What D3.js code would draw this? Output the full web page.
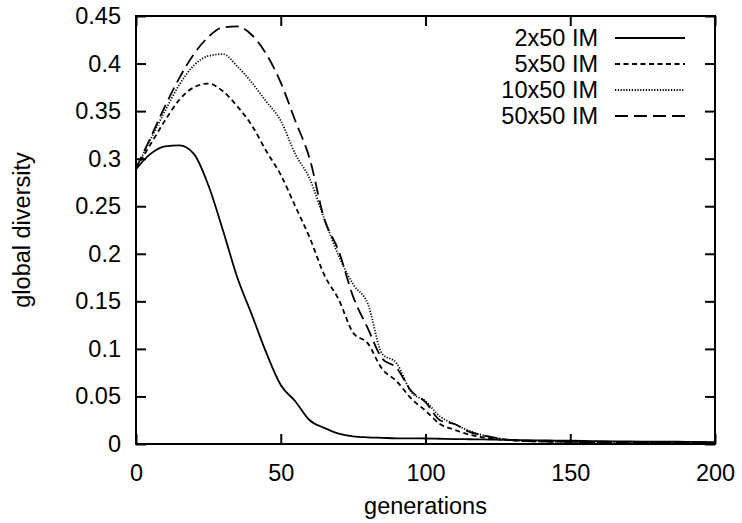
<!DOCTYPE html>
<head>
  <meta charset="utf-8">
  <script src="https://d3js.org/d3.v7.min.js"></script>
  <style>
    body { margin: 0; background: #fff; }
    text { font-family: "Liberation Sans", Arial, sans-serif; fill: #000; }
    .curve { fill: none; stroke: #000; stroke-width: 1.8px; }
  </style>
</head>

<body>
  <script>

    // generations, one point every 5
    var gens = d3.range(0, 201, 5);

    var im2 = [0.289, 0.305, 0.313, 0.314, 0.305, 0.272, 0.225, 0.175, 0.136, 0.096,
               0.062, 0.045, 0.025, 0.017, 0.011, 0.008, 0.007, 0.0065, 0.006, 0.006,
               0.0058, 0.0055, 0.0052, 0.005, 0.0048, 0.0045, 0.0043, 0.004, 0.0038, 0.0036,
               0.0034, 0.0032, 0.003, 0.0028, 0.0027, 0.0026, 0.0025, 0.0024, 0.0023, 0.0022, 0.002];
    var im5 = [0.29, 0.315, 0.34, 0.362, 0.375, 0.379, 0.371, 0.355, 0.335, 0.308,
               0.283, 0.25, 0.217, 0.178, 0.152, 0.117, 0.106, 0.079, 0.066, 0.048,
               0.035, 0.021, 0.015, 0.010, 0.007, 0.005, 0.004, 0.003, 0.0028, 0.0025,
               0.0023, 0.002, 0.0019, 0.0018, 0.0017, 0.0016, 0.0015, 0.0014, 0.0013, 0.0012, 0.0012];
    var im10 = [0.29, 0.32, 0.35, 0.378, 0.398, 0.408, 0.41, 0.397, 0.38, 0.36,
                0.34, 0.305, 0.279, 0.237, 0.198, 0.168, 0.148, 0.095, 0.085, 0.055,
                0.045, 0.029, 0.021, 0.014, 0.009, 0.006, 0.004, 0.003, 0.0028, 0.0025,
                0.0023, 0.002, 0.0019, 0.0018, 0.0017, 0.0016, 0.0015, 0.0014, 0.0013, 0.0012, 0.0012];
    var im50 = [0.29, 0.322, 0.355, 0.385, 0.41, 0.428, 0.438, 0.439, 0.43, 0.41,
                0.38, 0.34, 0.30, 0.237, 0.203, 0.155, 0.122, 0.09, 0.08, 0.056,
                0.044, 0.025, 0.021, 0.013, 0.009, 0.006, 0.004, 0.003, 0.0028, 0.0025,
                0.0023, 0.002, 0.0019, 0.0018, 0.0017, 0.0016, 0.0015, 0.0014, 0.0013, 0.0012, 0.0012];

    var seriesNames = ["2x50 IM", "5x50 IM", "10x50 IM", "50x50 IM"];
    var seriesValues = [im2, im5, im10, im50];
    var dashes = ["none", "5,3.5", "1.2,1.6", "13,6"];

    var xTicks = [0, 50, 100, 150, 200];
    var yTicks = [0, 0.05, 0.1, 0.15, 0.2, 0.25, 0.3, 0.35, 0.4, 0.45];

    var svg = d3.select("body").append("svg")
      .attr("width", 742)
      .attr("height", 523);

    var mLeft = 136, mRight = 715, mTop = 16, mBottom = 444;

    var x = d3.scaleLinear().domain([0, 200]).range([mLeft, mRight]);
    var y = d3.scaleLinear().domain([0, 0.45]).range([mBottom, mTop]);

    var line = d3.line()
      .x(function(d) { return x(d[0]); })
      .y(function(d) { return y(d[1]); })
      .curve(d3.curveMonotoneX);

    // curves
    seriesValues.forEach(function(vals, i) {
      svg.append("path")
        .datum(gens.map(function(g, j) { return [g, vals[j]]; }))
        .attr("class", "curve")
        .attr("d", line)
        .style("stroke-dasharray", dashes[i]);
    });

    // axes, ticks pointing inward, mirrored on top and right
    var fs = "23.5px";
    var tick = 10;

    svg.append("g")
      .attr("transform", "translate(0," + mBottom + ")")
      .call(d3.axisBottom(x).tickValues(xTicks).tickSize(-tick).tickPadding(tick + 10).tickFormat(d3.format("d")))
      .call(function(g) {
        g.select(".domain").remove();
        g.selectAll("text").style("font-size", fs);
      });

    svg.append("g")
      .attr("transform", "translate(0," + mTop + ")")
      .call(d3.axisTop(x).tickValues(xTicks).tickSize(-tick).tickFormat(""))
      .call(function(g) { g.select(".domain").remove(); });

    svg.append("g")
      .attr("transform", "translate(" + mLeft + ",0)")
      .call(d3.axisLeft(y).tickValues(yTicks).tickSize(-tick).tickPadding(tick + 5).tickFormat(d3.format("")))
      .call(function(g) {
        g.select(".domain").remove();
        g.selectAll("text").style("font-size", fs);
      });

    svg.append("g")
      .attr("transform", "translate(" + mRight + ",0)")
      .call(d3.axisRight(y).tickValues(yTicks).tickSize(-tick).tickFormat(""))
      .call(function(g) { g.select(".domain").remove(); });

    svg.selectAll(".tick line").attr("stroke", "#000").attr("stroke-width", 2);

    svg.append("rect")
      .attr("x", mLeft).attr("y", mTop)
      .attr("width", mRight - mLeft).attr("height", mBottom - mTop)
      .attr("fill", "none")
      .attr("stroke", "#000")
      .attr("stroke-width", 2);

    // axis titles
    svg.append("text")
      .attr("x", (mLeft + mRight) / 2)
      .attr("y", 514)
      .attr("text-anchor", "middle")
      .style("font-size", fs)
      .text("generations");

    svg.append("text")
      .attr("transform", "translate(30," + (mTop + mBottom) / 2 + ") rotate(-90)")
      .attr("text-anchor", "middle")
      .style("font-size", fs)
      .text("global diversity");

    // legend
    var legend = svg.append("g");
    seriesNames.forEach(function(name, i) {
      var ly = 38 + i * 26;
      legend.append("text")
        .attr("x", 598)
        .attr("y", ly)
        .attr("dy", "0.35em")
        .attr("text-anchor", "end")
        .style("font-size", fs)
        .text(name);
      legend.append("line")
        .attr("class", "curve")
        .attr("x1", 615).attr("x2", 685)
        .attr("y1", ly).attr("y2", ly)
        .style("stroke-dasharray", dashes[i]);
    });

  </script>
</body>
